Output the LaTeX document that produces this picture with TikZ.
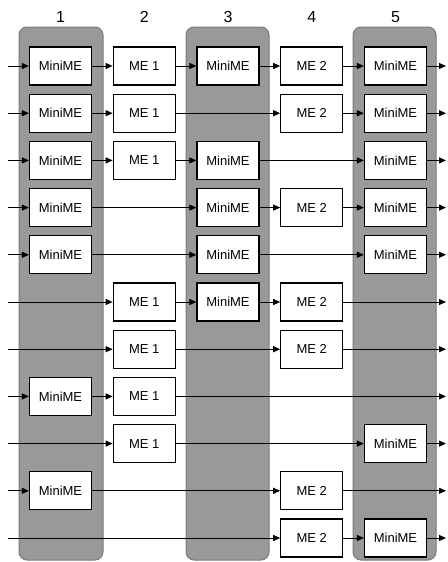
\documentclass[tikz,border=0pt]{standalone}
\usepackage{fontspec}
\setmainfont{Liberation Sans}
\usetikzlibrary{arrows.meta}
\definecolor{lanefill}{HTML}{999999}
\definecolor{laneedge}{HTML}{7A7A7A}
\tikzset{
  lane/.style={fill=lanefill, draw=laneedge, line width=1pt, rounded corners=8pt},
  box/.style={draw=black, fill=white, line width=1.2pt, minimum width=62pt, minimum height=38pt, inner sep=0pt, font=\fontsize{13}{15}\selectfont},
  arr/.style={draw=black, line width=1pt, -{Triangle[length=7pt,width=6pt]}},
  colnum/.style={font=\fontsize{16}{18}\selectfont, inner sep=0pt}
}
\begin{document}
\begin{tikzpicture}[x=1pt,y=-1pt]
\useasboundingbox (0,0) rectangle (447,562);
% lanes
\draw[lane] (19,27) rectangle (103,560);
\draw[lane] (186,27) rectangle (269,560);
\draw[lane] (353,27) rectangle (436,560);
% column numbers
\foreach \c in {1,...,5} {
  \pgfmathsetmacro\cx{60.5+83.75*(\c-1)}
  \node[colnum] (h\c) at (\cx,17) {\c};
}
% rows
\foreach \r/\cols in {1/{1,2,3,4,5},2/{1,2,4,5},3/{1,2,3,5},4/{1,3,4,5},5/{1,3,5},6/{2,3,4},7/{2,4},8/{1,2},9/{2,5},10/{1,4},11/{4,5}} {
  \pgfmathsetmacro\ry{66+47.2*(\r-1)}
  \coordinate (s\r) at (8,\ry);
  \coordinate (e\r) at (446,\ry);
  \xdef\prev{s\r}
  \foreach \c in \cols {
    \pgfmathsetmacro\cx{60.5+83.75*(\c-1)}
    \node[box] (n\r-\c) at (\cx,\ry) {\ifodd\c MiniME\else ME \the\numexpr\c/2\relax\fi};
    \draw[arr] (\prev) -- (n\r-\c);
    \xdef\prev{n\r-\c}
  }
  \draw[arr] (\prev) -- (e\r);
}
\end{tikzpicture}
\end{document}
